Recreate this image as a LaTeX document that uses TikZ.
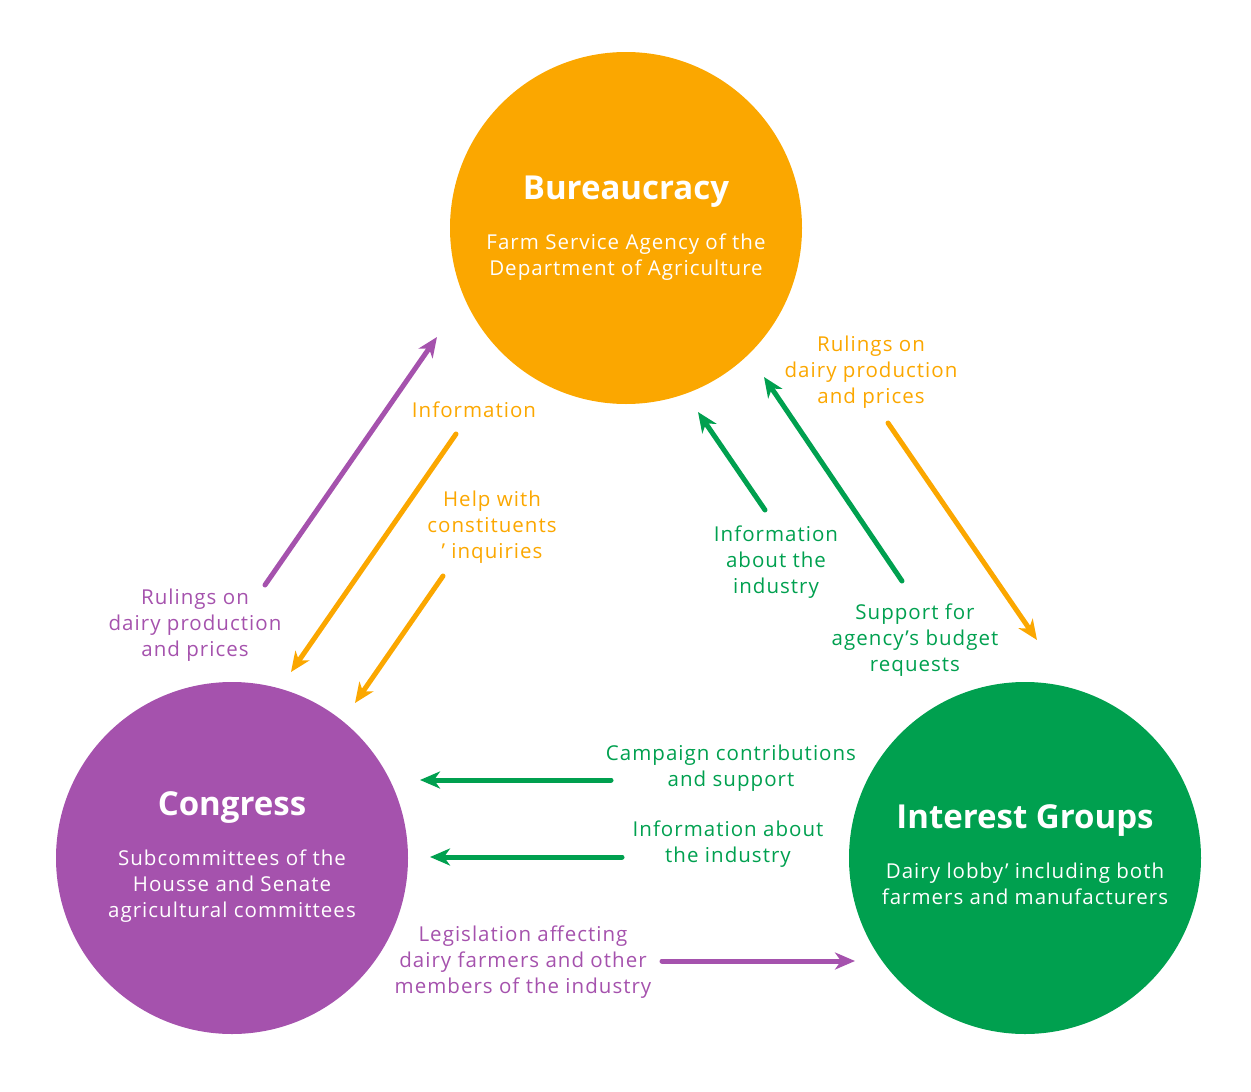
\documentclass[tikz,border=0pt]{standalone}
\usepackage{fontspec}
\setmainfont{Open Sans}
\newfontfamily\lblfont[LetterSpace=5]{Open Sans}
\usetikzlibrary{arrows.meta}
\definecolor{cOr}{HTML}{FBA700}
\definecolor{cPu}{HTML}{A552AD}
\definecolor{cGr}{HTML}{00A04F}
\tikzset{
  blob/.style={circle, inner sep=0pt, minimum size=352pt},
  ttl/.style={text=white, font=\fontsize{33}{38}\selectfont\bfseries},
  sub/.style={text=white, align=center, font=\lblfont\fontsize{20.5}{26}\selectfont},
  lbl/.style={align=center, font=\lblfont\fontsize{20.5}{26}\selectfont},
  conn/.style={line width=5pt, line cap=round, -{Stealth[length=20pt,width=17pt,inset=6pt]}}
}
\begin{document}
\begin{tikzpicture}[x=1pt,y=-1pt]
\useasboundingbox (0,0) rectangle (1251,1092);
% circles
\node[blob, fill=cOr] (bur) at (626,228) {};
\node[blob, fill=cPu] (con) at (232,858) {};
\node[blob, fill=cGr] (ig) at (1025,858) {};
\node[ttl] (burT) at (626,192) {Bureaucracy};
\node[sub] (burS) at (626,257.5) {Farm Service Agency of the\\Department of Agriculture};
\node[ttl] (conT) at (232,808) {Congress};
\node[sub] (conS) at (232,886.5) {Subcommittees of the\\Housse and Senate\\agricultural committees};
\node[ttl] (igT) at (1025,821) {Interest Groups};
\node[sub] (igS) at (1025,884) {Dairy lobby’ including both\\farmers and manufacturers};
% labels
\node[lbl, text=cOr] (l1) at (474,409.5) {Information};
\node[lbl, text=cOr] (l2) at (492,527.5) {Help with\\constituents\\’ inquiries};
\node[lbl, text=cPu] (l3) at (195,625.5) {Rulings on\\dairy production\\and prices};
\node[lbl, text=cOr] (l4) at (871,372.5) {Rulings on\\dairy production\\and prices};
\node[lbl, text=cGr] (l5) at (776,562.5) {Information\\about the\\industry};
\node[lbl, text=cGr] (l6) at (915,640.5) {Support for\\agency’s budget\\requests};
\node[lbl, text=cGr] (l7) at (731,768.5) {Campaign contributions\\and support};
\node[lbl, text=cGr] (l8) at (728,844.5) {Information about\\the industry};
\node[lbl, text=cPu] (l9) at (523,962.5) {Legislation affecting\\dairy farmers and other\\members of the industry};
% arrow ends
\coordinate (a1s) at (265,585); \coordinate (a1e) at (437,337);
\coordinate (a2s) at (456,434); \coordinate (a2e) at (291,672);
\coordinate (a3s) at (443,576); \coordinate (a3e) at (355,703);
\coordinate (a4s) at (765,510); \coordinate (a4e) at (698,412);
\coordinate (a5s) at (902,581); \coordinate (a5e) at (764,377);
\coordinate (a6s) at (888,423); \coordinate (a6e) at (1037,640);
\coordinate (a7s) at (611,780); \coordinate (a7e) at (420,780);
\coordinate (a8s) at (622,857); \coordinate (a8e) at (430,857);
\coordinate (a9s) at (662,961); \coordinate (a9e) at (855,961);
\draw[conn, cPu] (a1s) -- (a1e);
\draw[conn, cOr] (a2s) -- (a2e);
\draw[conn, cOr] (a3s) -- (a3e);
\draw[conn, cGr] (a4s) -- (a4e);
\draw[conn, cGr] (a5s) -- (a5e);
\draw[conn, cOr] (a6s) -- (a6e);
\draw[conn, cGr] (a7s) -- (a7e);
\draw[conn, cGr] (a8s) -- (a8e);
\draw[conn, cPu] (a9s) -- (a9e);
\end{tikzpicture}
\end{document}
